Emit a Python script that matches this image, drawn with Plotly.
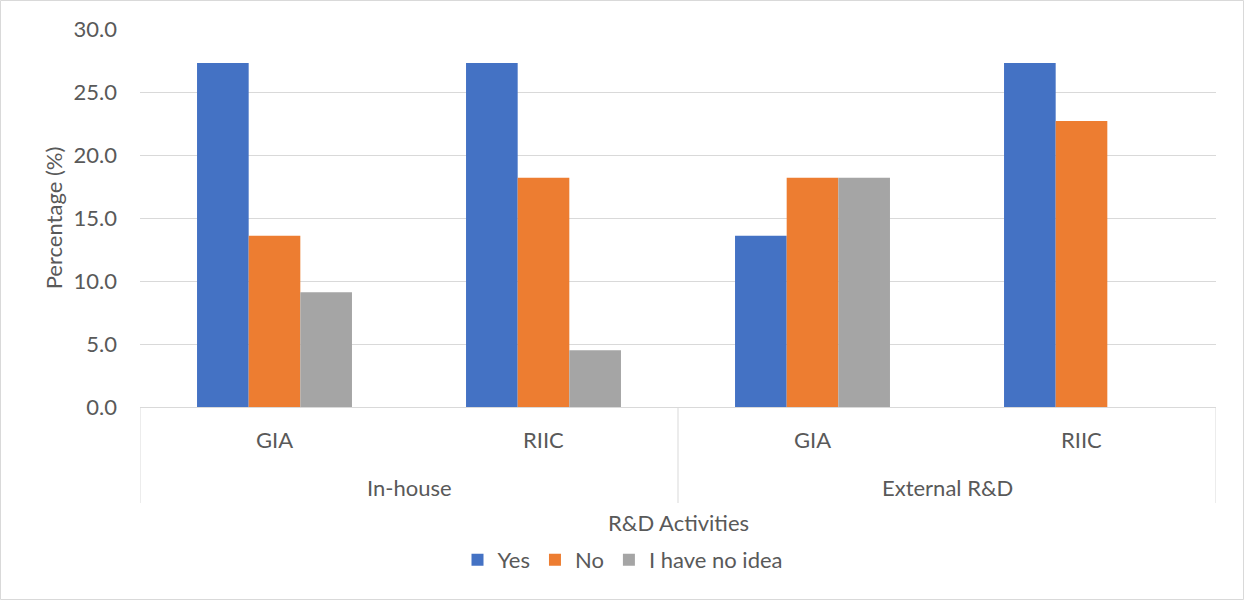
import plotly.graph_objects as go

# Two-level categories: activity group / programme
groups = ["In-house", "In-house", "External R&D", "External R&D"]
programmes = ["GIA", "RIIC", "GIA", "RIIC"]

series_names = ["Yes", "No", "I have no idea"]
yes_vals = [27.3, 27.3, 13.6, 27.3]
no_vals = [13.6, 18.2, 18.2, 22.7]
no_idea_vals = [9.1, 4.5, 18.2, 0.0]

colors = ["#4472C4", "#ED7D31", "#A5A5A5"]
text_color = "#595959"
grid_color = "#D9D9D9"
font_family = "Lato, Carlito, Calibri, sans-serif"

x_pos = list(range(len(programmes)))

fig = go.Figure()
for name, vals, col in zip(series_names, [yes_vals, no_vals, no_idea_vals], colors):
    fig.add_trace(go.Bar(
        x=x_pos, y=vals, name=name,
        marker=dict(color=col, line=dict(width=0)),
    ))

# plot area in pixels
W, H = 1244, 600
ml, mr, mt, mb = 140, 28, 29, 193
pw, ph = W - ml - mr, H - mt - mb

def py(pixel_y):
    """Convert a figure pixel row to paper y."""
    return (H - mb - pixel_y) / ph

annotations = []
shapes = []

# first-level labels (programmes)
for xi, lab in zip(x_pos, programmes):
    annotations.append(dict(
        x=xi, y=py(440), xref="x", yref="paper", text=lab, showarrow=False,
        xanchor="center", yanchor="middle",
        font=dict(size=22, color=text_color, family=font_family),
    ))

# second-level labels (groups) and the dividers around them
group_order = []
for g in groups:
    if g not in group_order:
        group_order.append(g)
start = 0
bounds = [-0.5]
for g in group_order:
    n = groups.count(g)
    centre = start + (n - 1) / 2
    annotations.append(dict(
        x=centre, y=py(488), xref="x", yref="paper", text=g, showarrow=False,
        xanchor="center", yanchor="middle",
        font=dict(size=22, color=text_color, family=font_family),
    ))
    start += n
    bounds.append(start - 0.5)

for b in bounds:
    shapes.append(dict(
        type="line", xref="x", yref="paper", x0=b, x1=b, y0=0, y1=py(503),
        line=dict(color=grid_color, width=1), layer="below",
    ))

# axis title
annotations.append(dict(
    x=0.5, y=py(522), xref="paper", yref="paper", text="R&D Activities",
    showarrow=False, xanchor="center", yanchor="middle",
    font=dict(size=22, color=text_color, family=font_family),
))

# outer chart border
shapes.append(dict(
    type="rect", xref="paper", yref="paper",
    x0=(-ml + 0.5) / pw, x1=(pw + mr - 0.5) / pw,
    y0=py(H - 0.5), y1=py(0.5),
    line=dict(color=grid_color, width=1), fillcolor="rgba(0,0,0,0)", layer="below",
))

fig.update_layout(
    width=W, height=H,
    margin=dict(l=ml, r=mr, t=mt, b=mb),
    paper_bgcolor="white", plot_bgcolor="white",
    barmode="group", bargap=0.424, bargroupgap=0,
    font=dict(family=font_family, color=text_color, size=22),
    xaxis=dict(
        range=[-0.5, len(programmes) - 0.5], showticklabels=False, ticks="",
        showgrid=False, zeroline=False, showline=True, linecolor=grid_color, linewidth=1,
    ),
    yaxis=dict(
        range=[0, 30], dtick=5, tickformat=".1f", ticks="",
        showgrid=True, gridcolor=grid_color, gridwidth=1, zeroline=False, showline=False,
        tickfont=dict(size=22, color=text_color, family=font_family),
        ticklabelstandoff=22,
        title=dict(text="Percentage (%)", standoff=4,
                   font=dict(size=22, color=text_color, family=font_family)),
    ),
    legend=dict(
        orientation="h", x=(623 - ml) / pw, xanchor="center", y=py(560), yanchor="middle",
        font=dict(size=22, color=text_color, family=font_family),
        itemwidth=30, traceorder="normal", bgcolor="rgba(0,0,0,0)",
    ),
    annotations=annotations,
    shapes=shapes,
)

fig.write_html("out.html")
